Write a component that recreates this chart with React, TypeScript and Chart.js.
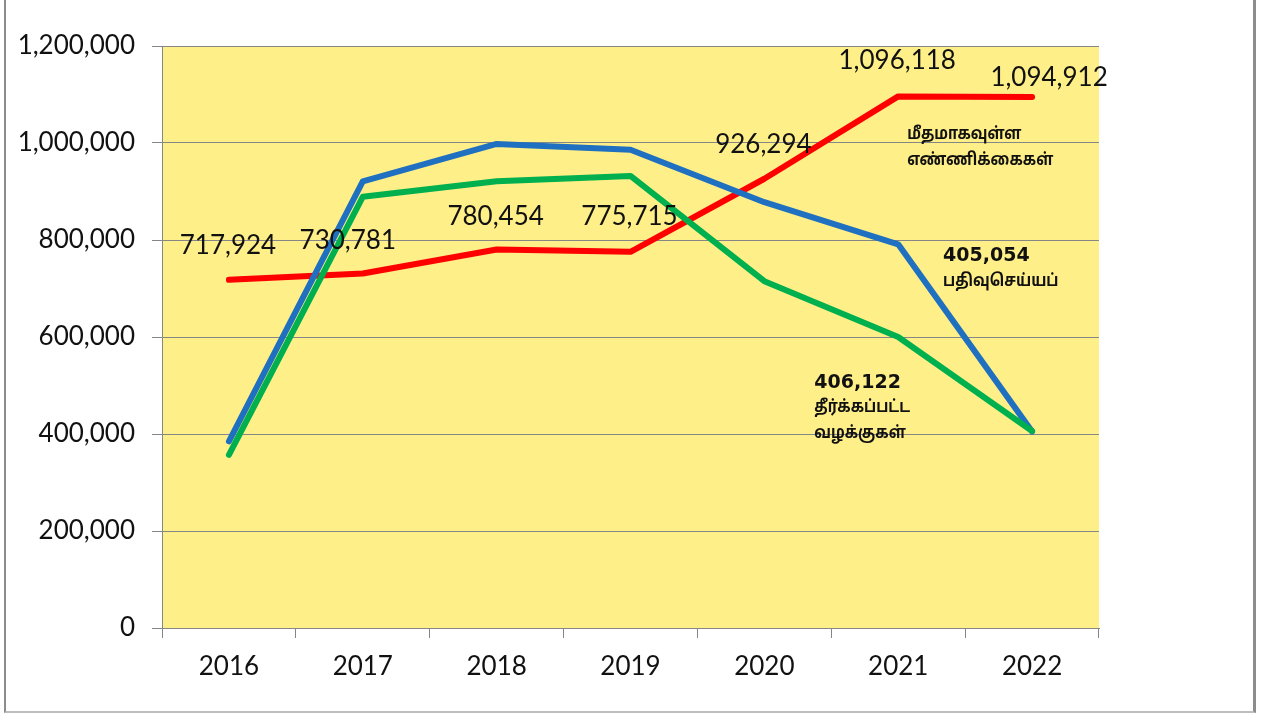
import React, { useEffect, useRef } from "react";
import { Chart, registerables } from "chart.js";

Chart.register(...registerables);

const years = ["2016", "2017", "2018", "2019", "2020", "2021", "2022"];
const pending = [717924, 730781, 780454, 775715, 926294, 1096118, 1094912];
const filed = [385000, 921000, 998000, 986000, 878000, 791000, 405054];
const disposed = [357000, 889000, 921000, 932000, 715000, 600000, 406122];
const yTicks = [0, 200000, 400000, 600000, 800000, 1000000, 1200000];

const pendingLabel = ["மீதமாகவுள்ள", "எண்ணிக்கைகள்"];
const filedLabel = ["405,054", "பதிவுசெய்யப்"];
const disposedLabel = ["406,122", "தீர்க்கப்பட்ட", "வழக்குகள்"];

// label offsets (px) for the red series value labels
const labelOffsets = [
  [-1, -34],
  [-15, -33],
  [-1, -33],
  [-1, -35],
  [-1, -34],
  [-1, -36],
  [17, -19],
];

const FONT = "Lato, 'Open Sans', sans-serif";
const TAMIL = "'Noto Sans Tamil', Latha, 'Noto Sans', 'DejaVu Sans', sans-serif";
const fmt = (v: number) => v.toLocaleString("en-US");

export default function App() {
  const ref = useRef<HTMLCanvasElement | null>(null);

  useEffect(() => {
    if (!ref.current) return;
    const bgPlugin = {
      id: "bg",
      beforeDraw(chart: any) {
        const { ctx, chartArea } = chart;
        ctx.save();
        ctx.fillStyle = "#FFEF88";
        ctx.fillRect(chartArea.left, chartArea.top, chartArea.right - chartArea.left, chartArea.bottom - chartArea.top);
        ctx.restore();
      },
      afterDatasetsDraw(chart: any) {
        const { ctx } = chart;
        const xs = chart.scales.x;
        const ys = chart.scales.y;
        ctx.save();
        ctx.fillStyle = "#111";
        ctx.font = `26px ${FONT}`;
        ctx.textAlign = "center";
        ctx.textBaseline = "middle";
        pending.forEach((v, i) => {
          const x = xs.getPixelForValue(i) + labelOffsets[i][0];
          const y = ys.getPixelForValue(v) + labelOffsets[i][1];
          ctx.fillText(fmt(v), x, y);
        });
        // annotations
        ctx.textAlign = "left";
        const drawBlock = (lines: string[], x: number, y: number) => {
          lines.forEach((t, k) => {
            const isNum = /^[0-9,]+$/.test(t);
            if (isNum) {
              ctx.font = `bold 19px 'DejaVu Sans', sans-serif`;
              ctx.fillText(t, x, y + k * 26);
            } else {
              ctx.save();
              ctx.font = `bold 17px ${TAMIL}`;
              ctx.translate(x, y + k * 26);
              ctx.scale(0.86, 1);
              ctx.fillText(t, 0, 0);
              ctx.restore();
            }
          });
        };
        drawBlock(pendingLabel, xs.getPixelForValue(5) + 9, ys.getPixelForValue(1016000));
        drawBlock(filedLabel, xs.getPixelForValue(6) - 89, ys.getPixelForValue(766000));
        drawBlock(disposedLabel, xs.getPixelForValue(4) + 50, ys.getPixelForValue(505000));
        ctx.restore();
      },
    };

    const common = {
      fill: false,
      tension: 0,
      pointRadius: 0,
      borderWidth: 6,
      borderCapStyle: "round",
      borderJoinStyle: "round",
    };

    const chart = new Chart(ref.current, {
      type: "line",
      data: {
        labels: years,
        datasets: [
          { ...common, label: "pending", data: pending, borderColor: "#FF0000", order: 2 },
          { ...common, label: "filed", data: filed, borderColor: "#1F70C1", order: 1 },
          { ...common, label: "disposed", data: disposed, borderColor: "#00B04F", order: 0 },
        ] as any,
      },
      options: {
        responsive: false,
        animation: false,
        devicePixelRatio: 1,
        layout: { padding: { top: 46, right: 163, left: 0, bottom: 0 } },
        plugins: { legend: { display: false }, tooltip: { enabled: false } },
        scales: {
          x: {
            offset: true,
            grid: { offset: true, drawOnChartArea: false, drawTicks: true, tickLength: 10, color: "#868686" },
            border: { display: true, color: "#868686" },
            ticks: { color: "#111", font: { family: FONT, size: 26 }, padding: 13, maxRotation: 0 },
            afterFit: (s: any) => {
              s.height = 87;
            },
          },
          y: {
            min: 0,
            max: 1200000,
            afterBuildTicks: (s: any) => {
              s.ticks = yTicks.map((v) => ({ value: v }));
            },
            grid: { color: "#868686", tickLength: 10 },
            border: { display: true, color: "#868686" },
            ticks: {
              color: "#111",
              font: { family: FONT, size: 26 },
              padding: 17,
              callback: (v: any) => fmt(Number(v)),
            },
            afterFit: (s: any) => {
              s.width = 162;
            },
          },
        },
      } as any,
      plugins: [bgPlugin],
    });
    return () => chart.destroy();
  }, []);

  return (
    <div style={{ position: "fixed", left: 0, top: 0, width: 1262, height: 715, background: "#fff" }}>
      <canvas ref={ref} width={1262} height={715} style={{ position: "absolute", left: 0, top: 0 }} />
      <div
        style={{
          position: "absolute",
          left: 4,
          top: -4,
          width: 1247,
          height: 715,
          borderLeft: "2px solid #8c8c8c",
          borderRight: "3px solid #8c8c8c",
          borderBottom: "2px solid #bdbdbd",
          boxSizing: "content-box",
          pointerEvents: "none",
        }}
      />
    </div>
  );
}
